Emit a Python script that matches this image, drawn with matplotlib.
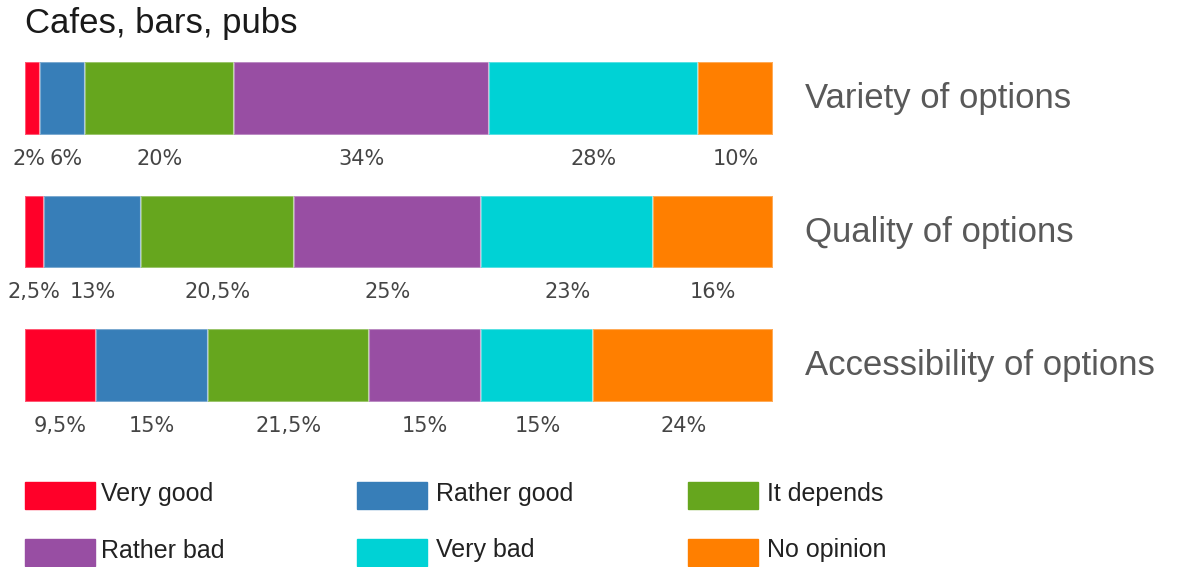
import matplotlib
matplotlib.use("Agg")
import matplotlib.pyplot as plt
from matplotlib.patches import Rectangle
import numpy as np

title = "Cafes, bars, pubs"
categories = ["Variety of options", "Quality of options", "Accessibility of options"]
responses = ["Very good", "Rather good", "It depends", "Rather bad", "Very bad", "No opinion"]
very_good = [2, 2.5, 9.5]
rather_good = [6, 13, 15]
it_depends = [20, 20.5, 21.5]
rather_bad = [34, 25, 15]
very_bad = [28, 23, 15]
no_opinion = [10, 16, 24]
series = [very_good, rather_good, it_depends, rather_bad, very_bad, no_opinion]
colors = ["#FF0029", "#377EB8", "#66A61E", "#984EA3", "#00D2D5", "#FF7F00"]

W, H = 1179, 567
fig = plt.figure(figsize=(W / 100, H / 100), dpi=100)
ax = fig.add_axes([25 / W, 0, 748 / W, 1])
px_per_unit = 133.5
ax.set_xlim(0, 100)
ax.set_ylim((H - 98.5) / px_per_unit, -98.5 / px_per_unit)
ax.axis("off")

label_font = "DejaVu Sans"
y = np.arange(len(categories))
left = np.zeros(len(categories))
row_texts = [[] for _ in categories]
for vals, col in zip(series, colors):
    vals = np.array(vals, dtype=float)
    ax.barh(y, vals, left=left, height=0.545, color=col,
            edgecolor=(1, 1, 1, 0.35), linewidth=1.5, zorder=2)
    for yi, (l, v) in enumerate(zip(left, vals)):
        txt = (f"{v:g}").replace(".", ",") + "%"
        t = ax.text(l + v / 2, yi + 0.45, txt, ha="center", va="center",
                    fontsize=15, color="#454545", family=label_font)
        row_texts[yi].append(t)
    left = left + vals

# push apart overlapping value labels
fig.canvas.draw()
renderer = fig.canvas.get_renderer()
units_per_px = 100 / 748
gap = 4
for texts in row_texts:
    for _ in range(5):
        for a, b in zip(texts[:-1], texts[1:]):
            ba = a.get_window_extent(renderer)
            bb = b.get_window_extent(renderer)
            overlap = ba.x1 + gap - bb.x0
            if overlap > 0:
                shift = overlap / 2 * units_per_px
                xa, ya = a.get_position()
                xb, yb = b.get_position()
                a.set_position((xa - shift, ya))
                b.set_position((xb + shift, yb))

for yi, cat in enumerate(categories):
    ax.text(104.3, yi + 0.0, cat, ha="left", va="center", fontsize=25,
            color="#595959", family="Liberation Sans")

fig.text(25 / W, 1 - 24 / H, title, ha="left", va="center", fontsize=25,
         color="#1a1a1a", family="Liberation Sans")

# legend (manual layout)
col_x = [25, 357, 688]
row_y = [482, 539]
for i, (name, col) in enumerate(zip(responses, colors)):
    r, c = divmod(i, 3)
    x0 = col_x[c]
    y0 = row_y[r]
    fig.patches.append(Rectangle((x0 / W, 1 - (y0 + 27) / H), 70 / W, 27 / H,
                                 transform=fig.transFigure, color=col, zorder=3))
    fig.text((x0 + 76 + (3 if c > 0 else 0)) / W, 1 - (y0 + 11.5) / H, name,
             ha="left", va="center", fontsize=18, color="#222222",
             family="Liberation Sans")

fig.savefig("out.png", dpi=100)
